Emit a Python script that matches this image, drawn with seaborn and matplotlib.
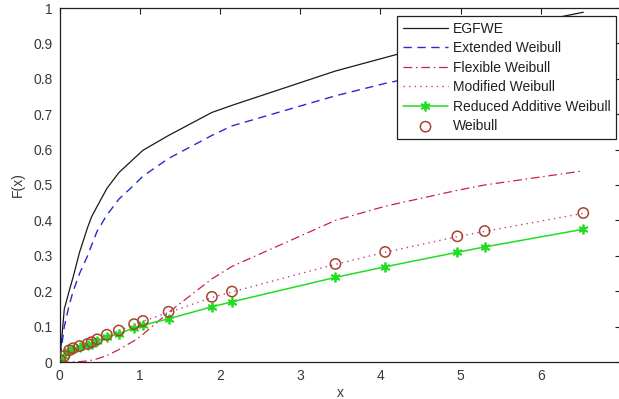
import matplotlib
matplotlib.use("Agg")
import matplotlib.pyplot as plt
import seaborn as sns
import numpy as np
import pandas as pd

# ---- data ----
x = [0.01, 0.06, 0.12, 0.17, 0.25, 0.35, 0.40, 0.47, 0.59, 0.74, 0.93, 1.04,
     1.36, 1.90, 2.15, 3.44, 4.06, 4.96, 5.30, 6.53]
egfwe = [0.02, 0.15, 0.20, 0.24, 0.31, 0.38, 0.41, 0.44, 0.49, 0.535, 0.575, 0.598,
         0.64, 0.705, 0.725, 0.822, 0.86, 0.915, 0.932, 0.988]
ext_weibull = [0.015, 0.10, 0.16, 0.20, 0.25, 0.30, 0.33, 0.37, 0.415, 0.46, 0.50, 0.525,
               0.575, 0.64, 0.667, 0.752, 0.787, 0.83, 0.845, 0.89]
flex_weibull = [0.0, 0.0, 0.0, 0.0, 0.001, 0.003, 0.005, 0.009, 0.018, 0.035, 0.06, 0.078,
                0.14, 0.235, 0.27, 0.40, 0.44, 0.485, 0.50, 0.54]
mod_weibull = [0.005, 0.017, 0.032, 0.039, 0.045, 0.051, 0.056, 0.064, 0.076, 0.088, 0.106, 0.115,
               0.14, 0.182, 0.198, 0.276, 0.31, 0.354, 0.369, 0.42]
red_add_weibull = [0.005, 0.016, 0.03, 0.036, 0.042, 0.048, 0.052, 0.059, 0.070, 0.080, 0.097, 0.104,
                   0.122, 0.156, 0.170, 0.239, 0.269, 0.310, 0.325, 0.375]
weibull = [0.005, 0.017, 0.033, 0.039, 0.045, 0.051, 0.056, 0.064, 0.077, 0.089, 0.107, 0.116,
           0.142, 0.184, 0.199, 0.277, 0.311, 0.355, 0.370, 0.421]

xticks = [0, 1, 2, 3, 4, 5, 6, 7]
xtick_labels = ["0", "1", "2", "3", "4", "5", "6", ""]
yticks = [0, 0.1, 0.2, 0.3, 0.4, 0.5, 0.6, 0.7, 0.8, 0.9, 1]
ytick_labels = ["0", "0.1", "0.2", "0.3", "0.4", "0.5", "0.6", "0.7", "0.8", "0.9", "1"]

sns.set_theme(style="white")
plt.rcParams["font.family"] = ["Liberation Sans", "DejaVu Sans"]
plt.rcParams["font.size"] = 10
txt = "#383838"

fig = plt.figure(figsize=(6.19, 3.99), dpi=100)
fig.patch.set_facecolor("white")
ax = fig.add_axes([59.5 / 619, 1 - 362 / 399, (621 - 59.5) / 619, (362 - 8) / 399])

sns.lineplot(x=x, y=egfwe, ax=ax, color="#1a1a1a", lw=0.9, label="EGFWE",
             sort=False, errorbar=None)
sns.lineplot(x=x, y=ext_weibull, ax=ax, color="#2a2ad0", lw=1.0,
             label="Extended Weibull", sort=False, errorbar=None, linestyle=(0, (6, 4)))
sns.lineplot(x=x, y=flex_weibull, ax=ax, color="#d0203c", lw=0.9,
             label="Flexible Weibull", sort=False, errorbar=None, linestyle=(0, (7, 3, 1.2, 3)))
sns.lineplot(x=x, y=mod_weibull, ax=ax, color="#c03c9c", lw=1.0,
             label="Modified Weibull", sort=False, errorbar=None, linestyle=(0, (1, 3)))
sns.lineplot(x=x, y=red_add_weibull, ax=ax, color="#22dd22", lw=1.1,
             marker=(6, 2, 0), markersize=7, markeredgewidth=1.3, markeredgecolor="#22dd22",
             label="Reduced Additive Weibull", sort=False, errorbar=None)
sns.scatterplot(x=x, y=weibull, ax=ax, marker="o", s=55, facecolors="none",
                edgecolor="#a8442c", linewidth=1.1, label="Weibull", zorder=5)

ax.set_xlim(0, 7)
ax.set_ylim(0, 1)
ax.set_xticks(xticks)
ax.set_xticklabels(xtick_labels)
ax.set_yticks(yticks)
ax.set_yticklabels(ytick_labels)
ax.tick_params(direction="in", length=4, width=0.8, colors="#202020", labelcolor=txt,
               labelsize=10, top=True, right=True, pad=5)
for s in ax.spines.values():
    s.set_color("#202020")
    s.set_linewidth(0.9)
ax.set_xlabel("x", color=txt, fontsize=10, labelpad=2)
ax.set_ylabel("F(x)", color=txt, fontsize=10, labelpad=6)

leg = ax.legend(loc="upper left", bbox_to_anchor=(397 / 619, 1 - 16 / 399),
                bbox_transform=fig.transFigure, borderaxespad=0, frameon=True,
                fancybox=False, framealpha=1, edgecolor="#202020", fontsize=10,
                handlelength=3.3, handletextpad=0.3, labelspacing=0.4, borderpad=0.4)
leg.get_frame().set_linewidth(0.9)
for t in leg.get_texts():
    t.set_color("#202020")

fig.savefig("out.png", dpi=100, facecolor="white")
